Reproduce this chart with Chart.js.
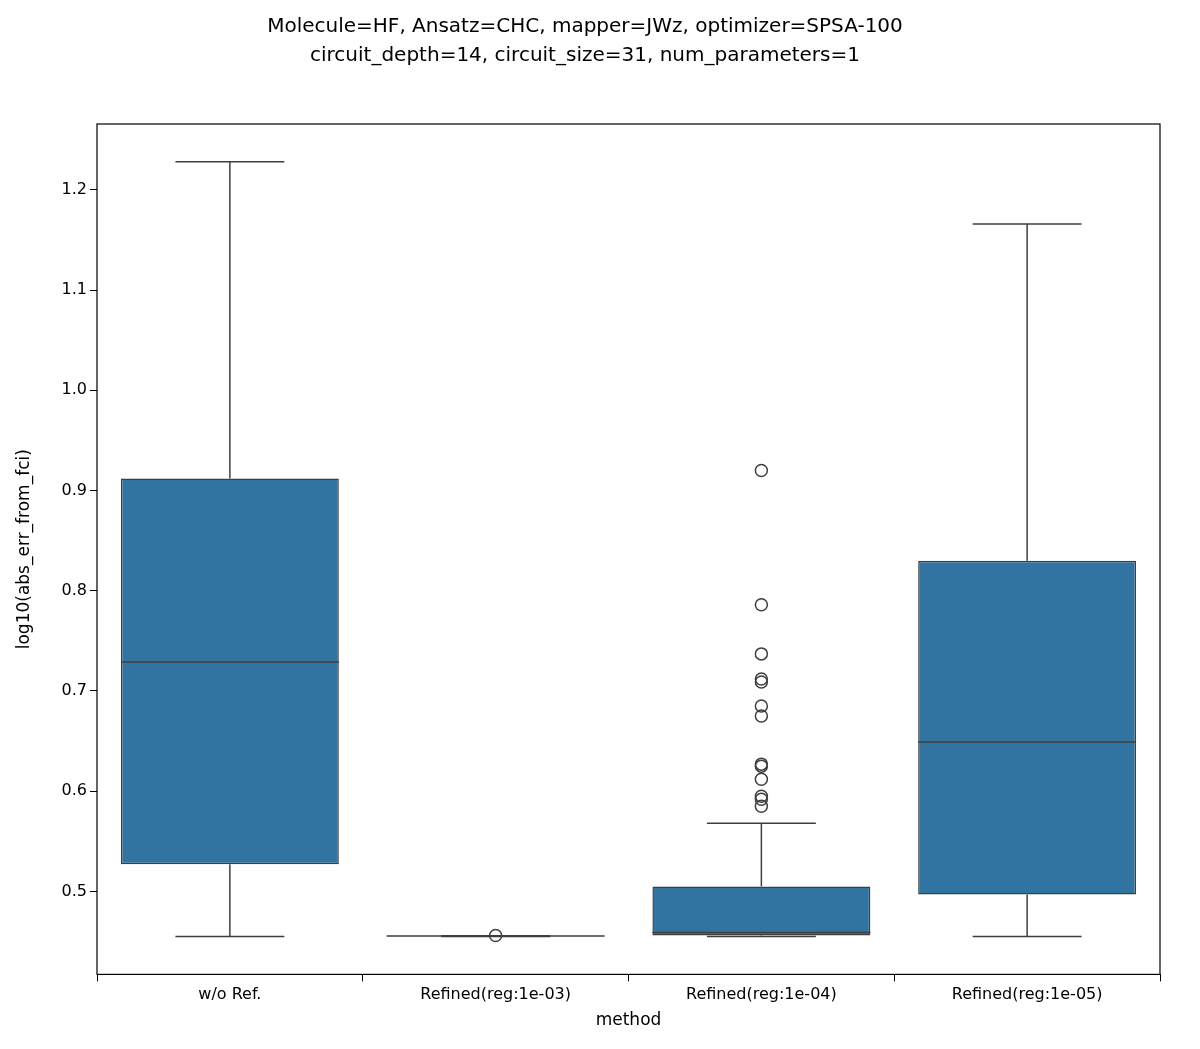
<!DOCTYPE html>
<html>
<head>
<meta charset="utf-8">
<script src="https://cdn.jsdelivr.net/npm/chart.js@4"></script>
<style>
  body { margin: 0; background: #fff; }
  #wrap { width: 1200px; height: 1049px; }
</style>
</head>
<body>
<div id="wrap"><canvas id="c"></canvas></div>
<script>
const categories = ["w/o Ref.", "Refined(reg:1e-03)", "Refined(reg:1e-04)", "Refined(reg:1e-05)"];
const whiskerLow = [0.455, 0.455, 0.455, 0.455];
const q1 = [0.527, 0.4553, 0.456, 0.497];
const median = [0.729, 0.4555, 0.459, 0.649];
const q3 = [0.912, 0.4557, 0.505, 0.830];
const whiskerHigh = [1.228, 0.4557, 0.568, 1.166];
const outliers1e03 = [0.456];
const outliers1e04 = [0.920, 0.786, 0.737, 0.712, 0.709, 0.685, 0.675, 0.627, 0.625, 0.612, 0.595, 0.592, 0.585];

const edge = "#3f3f3f";
const outlierPoints = [
  ...outliers1e03.map((v) => ({ x: categories[1], y: v })),
  ...outliers1e04.map((v) => ({ x: categories[2], y: v })),
];

// whiskers, medians and frame
const boxExtras = {
  id: "boxExtras",
  afterDatasetsDraw(chart) {
    const { ctx, scales: { x, y }, chartArea } = chart;
    const meta = chart.getDatasetMeta(0);
    ctx.save();
    ctx.strokeStyle = edge;
    ctx.lineWidth = 1.5;
    categories.forEach((c, i) => {
      const bar = meta.data[i];
      const cx = x.getPixelForValue(i);
      const half = bar.width / 2;
      const capHalf = half / 2;
      const line = (x1, y1, x2, y2) => {
        ctx.beginPath(); ctx.moveTo(x1, y1); ctx.lineTo(x2, y2); ctx.stroke();
      };
      line(cx, y.getPixelForValue(q1[i]), cx, y.getPixelForValue(whiskerLow[i]));
      line(cx, y.getPixelForValue(q3[i]), cx, y.getPixelForValue(whiskerHigh[i]));
      line(cx - capHalf, y.getPixelForValue(whiskerLow[i]), cx + capHalf, y.getPixelForValue(whiskerLow[i]));
      line(cx - capHalf, y.getPixelForValue(whiskerHigh[i]), cx + capHalf, y.getPixelForValue(whiskerHigh[i]));
      line(cx - half, y.getPixelForValue(median[i]), cx + half, y.getPixelForValue(median[i]));
    });
    ctx.strokeStyle = "#000";
    ctx.lineWidth = 1.2;
    ctx.strokeRect(chartArea.left, chartArea.top, chartArea.right - chartArea.left, chartArea.bottom - chartArea.top);
    ctx.restore();
  },
};

new Chart(document.getElementById("c"), {
  data: {
    labels: categories,
    datasets: [
      {
        type: "bar",
        data: categories.map((c, i) => [q1[i], q3[i]]),
        backgroundColor: "#3274a1",
        borderColor: edge,
        borderWidth: 1.5,
        borderSkipped: false,
        categoryPercentage: 0.82,
        barPercentage: 1,
        order: 2,
      },
      {
        type: "line",
        data: outlierPoints,
        showLine: false,
        pointRadius: 6,
        pointBorderWidth: 1.5,
        pointBorderColor: edge,
        pointBackgroundColor: "rgba(0,0,0,0)",
        order: 1,
      },
    ],
  },
  options: {
    responsive: true,
    maintainAspectRatio: false,
    devicePixelRatio: 1,
    animation: false,
    layout: { padding: { left: 10, right: 40, top: 0, bottom: 14 } },
    plugins: {
      legend: { display: false },
      tooltip: { enabled: false },
      title: {
        display: true,
        text: [
          "Molecule=HF, Ansatz=CHC, mapper=JWz, optimizer=SPSA-100",
          "circuit_depth=14, circuit_size=31, num_parameters=1",
        ],
        color: "#000",
        font: { family: "DejaVu Sans", size: 20, weight: "normal", lineHeight: 1.45 },
        padding: { top: 12, bottom: 54 },
      },
    },
    scales: {
      x: {
        offset: true,
        grid: { display: true, drawOnChartArea: false, tickLength: 7, color: "#000" },
        border: { display: false },
        ticks: { color: "#000", font: { family: "DejaVu Sans", size: 16 }, padding: 4 },
        title: { display: true, text: "method", color: "#000", font: { family: "DejaVu Sans", size: 17 }, padding: { top: 2 } },
      },
      y: {
        min: 0.4172,
        max: 1.2657,
        afterFit: (s) => { s.width = 87; },
        afterBuildTicks: (s) => {
          s.ticks = [0.5, 0.6, 0.7, 0.8, 0.9, 1.0, 1.1, 1.2].map((v) => ({ value: v }));
        },
        grid: { display: true, drawOnChartArea: false, tickLength: 7, color: "#000" },
        border: { display: false },
        ticks: { color: "#000", font: { family: "DejaVu Sans", size: 16 }, callback: (v) => v.toFixed(1) },
        title: { display: true, text: "log10(abs_err_from_fci)", color: "#000", font: { family: "DejaVu Sans", size: 17 } },
      },
    },
  },
  plugins: [boxExtras],
});
</script>
</body>
</html>
